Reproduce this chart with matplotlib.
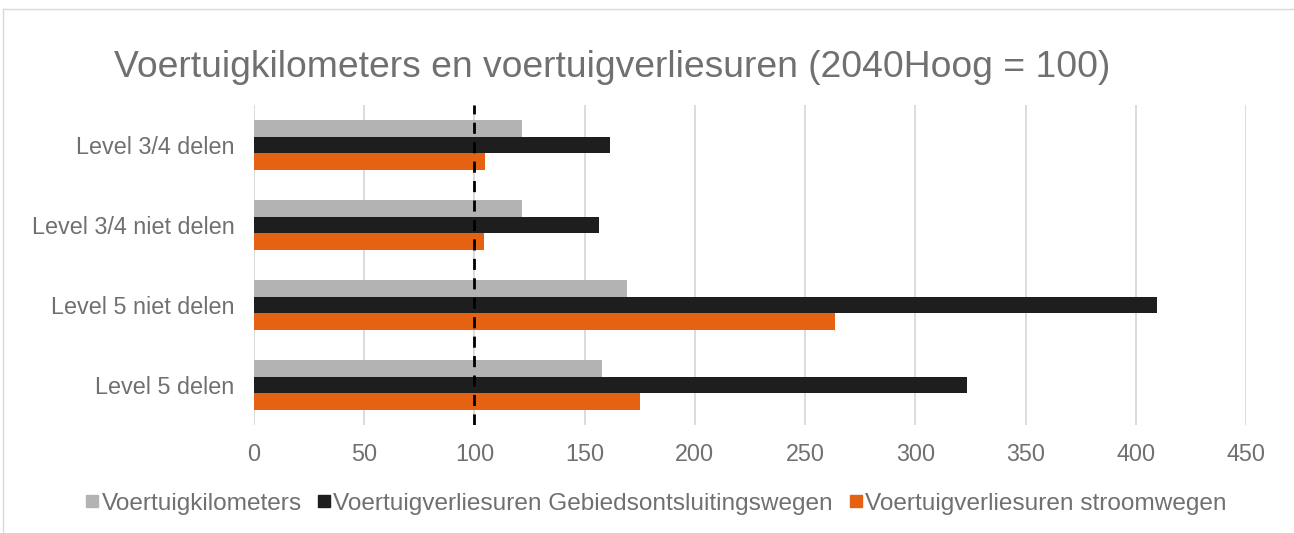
import matplotlib.pyplot as plt
import numpy as np
from matplotlib.lines import Line2D

plt.rcParams['font.family'] = ['Liberation Sans', 'DejaVu Sans']

categories = ["Level 3/4 delen", "Level 3/4 niet delen", "Level 5 niet delen", "Level 5 delen"]
series_names = ["Voertuigkilometers",
                "Voertuigverliesuren Gebiedsontsluitingswegen",
                "Voertuigverliesuren stroomwegen"]
kilometers = [121.5, 121.5, 169, 158]
gebied = [161.5, 156.5, 409.5, 323.5]
stroom = [105, 104.5, 263.5, 175]
xticks = [0, 50, 100, 150, 200, 250, 300, 350, 400, 450]
reference = 100

colors = ["#B3B3B3", "#1E1E1E", "#E46212"]
text_color = "#707070"

fig = plt.figure(figsize=(12.94, 5.33), dpi=100)
ax = fig.add_axes([0.1963, 0.2026, 0.7666, 0.6004])

y = np.arange(len(categories))
h = 0.207
for i, (vals, c) in enumerate(zip([kilometers, gebied, stroom], colors)):
    ax.barh(y + (i - 1) * h, vals, height=h, color=c, label=series_names[i], zorder=3)

ax.axvline(reference, color="black", linestyle=(0, (4, 3)), linewidth=2, zorder=4)

ax.set_ylim(len(categories) - 0.5, -0.5)
ax.set_xlim(0, 450)
ax.set_xticks(xticks)
ax.set_yticks(y)
ax.set_yticklabels(categories)
ax.grid(axis="x", color="#D9D9D9", linewidth=1.3, zorder=0)
for s in ax.spines.values():
    s.set_visible(False)
ax.tick_params(axis="both", length=0, labelsize=16.8, labelcolor=text_color)
ax.tick_params(axis="x", pad=13)
ax.tick_params(axis="y", pad=14)

fig.text(0.473, 0.874, "Voertuigkilometers en voertuigverliesuren (2040Hoog = 100)",
         ha="center", va="center", fontsize=26.8, color=text_color)

handles = [Line2D([], [], marker="s", linestyle="none", markersize=8.5,
                  markerfacecolor=c, markeredgecolor=c) for c in colors]
fig.legend(handles, series_names, loc="center", bbox_to_anchor=(0.506, 0.055),
           ncol=3, frameon=False, fontsize=17.6, labelcolor=text_color,
           handletextpad=0.0, columnspacing=0.55, handlelength=0.75)

# chart border (top and left visible)
fig.add_artist(Line2D([3 / 1294, 1.0], [1 - 9 / 533, 1 - 9 / 533],
                      transform=fig.transFigure, color="#D9D9D9", linewidth=1))
fig.add_artist(Line2D([3 / 1294, 3 / 1294], [0, 1 - 9 / 533],
                      transform=fig.transFigure, color="#D9D9D9", linewidth=1))

fig.savefig("out.png", dpi=100)
